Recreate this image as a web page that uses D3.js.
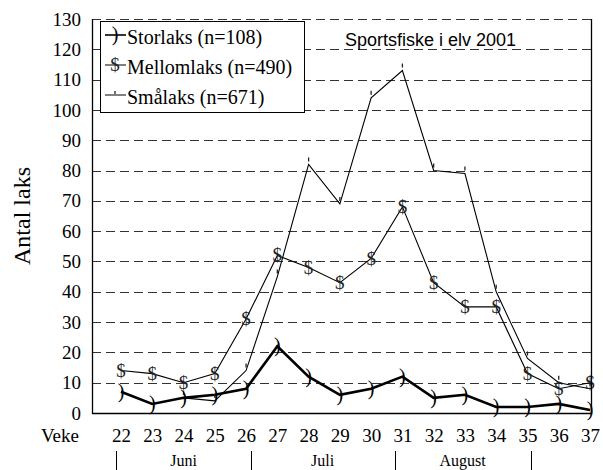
<!DOCTYPE html>
<html>
<head>
<meta charset="utf-8">
<script src="https://cdn.jsdelivr.net/npm/d3@7"></script>
<style>
  body { margin: 0; background: #fff; }
  svg { display: block; }
</style>
</head>
<body>
<div id="canvas"></div>
<script>
// weekly catch, sport fishing in river 2001
var weeks = [22, 23, 24, 25, 26, 27, 28, 29, 30, 31, 32, 33, 34, 35, 36, 37];
var storlaks = [7, 3, 5, 6, 8, 22, 12, 6, 8, 12, 5, 6, 2, 2, 3, 1];
var mellomlaks = [14, 13, 10, 13, 31, 52, 48, 43, 51, 68, 43, 35, 35, 13, 8, 10];
var smalaks = [null, null, 5, 4, 14, 45, 82, 69, 104, 113, 80, 79, 40, 18, 10, 8];

var seriesNames = ["Storlaks (n=108)", "Mellomlaks (n=490)", "Smålaks (n=671)"];
var yTicks = [0, 10, 20, 30, 40, 50, 60, 70, 80, 90, 100, 110, 120, 130];
var months = ["Juni", "Juli", "August"];
var monthBounds = [21.85, 26.15, 30.75, 35.1];

var winWidth = 603, winHeight = 470;
var plot = { left: 92, right: 591, top: 19, bottom: 413 };

var svg = d3.select("#canvas").append("svg")
  .attr("width", winWidth)
  .attr("height", winHeight);

var x = d3.scaleLinear().domain([22, 37]).range([121, 590]);
var y = d3.scaleLinear().domain([0, 130]).range([plot.bottom, plot.top]);

var serif = "'Liberation Serif', 'Times New Roman', serif";

// dashed gridlines
svg.append("g").selectAll("line")
  .data(yTicks.filter(function(d) { return d > 0; }))
  .enter().append("line")
  .attr("x1", plot.left).attr("x2", plot.right)
  .attr("y1", function(d) { return Math.round(y(d)) + 0.5; })
  .attr("y2", function(d) { return Math.round(y(d)) + 0.5; })
  .attr("stroke", "#333")
  .attr("stroke-dasharray", "9,5");

// y axis labels
var yAxis = d3.axisLeft(y).tickValues(yTicks).tickSize(0).tickPadding(11);
var gY = svg.append("g")
  .attr("transform", "translate(" + plot.left + ",0)")
  .call(yAxis);
gY.select(".domain").remove();
gY.selectAll("text")
  .style("font-family", serif).style("font-size", "19px").attr("fill", "#000");

// x axis labels
var xAxis = d3.axisBottom(x).tickValues(weeks).tickSize(0).tickPadding(16).tickFormat(d3.format("d"));
var gX = svg.append("g")
  .attr("transform", "translate(0," + plot.bottom + ")")
  .call(xAxis);
gX.select(".domain").remove();
gX.selectAll("text")
  .style("font-family", serif).style("font-size", "19px").attr("fill", "#000");

svg.append("text")
  .attr("x", 60).attr("y", 442)
  .attr("text-anchor", "middle")
  .style("font-family", serif).style("font-size", "19px")
  .text("Veke");

svg.append("text")
  .attr("transform", "translate(30,216) rotate(-90)")
  .attr("text-anchor", "middle")
  .style("font-family", serif).style("font-size", "24px")
  .text("Antal laks");

// month separators
svg.append("g").selectAll("line")
  .data(monthBounds)
  .enter().append("line")
  .attr("x1", function(d) { return Math.round(x(d)) + 0.5; })
  .attr("x2", function(d) { return Math.round(x(d)) + 0.5; })
  .attr("y1", 451).attr("y2", 470)
  .attr("stroke", "#000");

svg.append("g").selectAll("text")
  .data(months)
  .enter().append("text")
  .attr("x", function(d, i) { return (x(monthBounds[i]) + x(monthBounds[i + 1])) / 2; })
  .attr("y", 466)
  .attr("text-anchor", "middle")
  .style("font-family", serif).style("font-size", "16px")
  .text(function(d) { return d; });

// lines
function rows(values) {
  return weeks.map(function(w, i) { return { w: w, v: values[i] }; });
}
var line = d3.line()
  .defined(function(d) { return d.v != null; })
  .x(function(d) { return x(d.w); })
  .y(function(d) { return y(d.v); });

svg.append("path").datum(rows(smalaks))
  .attr("d", line).attr("fill", "none").attr("stroke", "#000").attr("stroke-width", 1.1);
svg.append("path").datum(rows(mellomlaks))
  .attr("d", line).attr("fill", "none").attr("stroke", "#000").attr("stroke-width", 1.1);
svg.append("path").datum(rows(storlaks))
  .attr("d", line).attr("fill", "none").attr("stroke", "#000").attr("stroke-width", 2.6);

// markers
svg.append("g").selectAll("line")
  .data(rows(smalaks).filter(function(d) { return d.v != null; }))
  .enter().append("line")
  .attr("x1", function(d) { return x(d.w); }).attr("x2", function(d) { return x(d.w); })
  .attr("y1", function(d) { return y(d.v) - 7; }).attr("y2", function(d) { return y(d.v) - 3; })
  .attr("stroke", "#222").attr("stroke-width", 1.3);

svg.append("g").selectAll("text")
  .data(rows(mellomlaks))
  .enter().append("text")
  .attr("x", function(d) { return x(d.w); })
  .attr("y", function(d) { return y(d.v); })
  .attr("text-anchor", "middle").attr("dy", "0.32em")
  .style("font-family", serif).style("font-size", "19px").attr("fill", "#222")
  .text("$");

svg.append("g").selectAll("text")
  .data(rows(storlaks))
  .enter().append("text")
  .attr("x", function(d) { return x(d.w); })
  .attr("y", function(d) { return y(d.v); })
  .attr("text-anchor", "middle").attr("dy", "0.3em")
  .style("font-family", serif).style("font-size", "20px").attr("fill", "#000")
  .text(")");

// plot frame (top edge is the dashed 130 line)
svg.append("path")
  .attr("d", "M" + (plot.left + 0.5) + "," + plot.top + "V" + (plot.bottom + 0.5) +
             "H" + (plot.right + 0.5) + "V" + plot.top)
  .attr("fill", "none").attr("stroke", "#000").attr("stroke-width", 1.3);

// legend
var legend = svg.append("g");
legend.append("rect")
  .attr("x", 100.5).attr("y", 21.5).attr("width", 204).attr("height", 91)
  .attr("fill", "#fff").attr("stroke", "#000");

var legendRows = legend.selectAll("g.row")
  .data(seriesNames)
  .enter().append("g")
  .attr("class", "row")
  .attr("transform", function(d, i) { return "translate(0," + (44 + i * 30) + ")"; });

legendRows.append("line")
  .attr("x1", 105).attr("x2", 126).attr("y1", -9).attr("y2", -9)
  .attr("stroke", "#000").attr("stroke-width", function(d, i) { return i === 0 ? 1.6 : 1; });

legendRows.append("text")
  .attr("x", 127).attr("y", 0)
  .style("font-family", serif).style("font-size", "20px")
  .text(function(d) { return d; });

legendRows.filter(function(d, i) { return i === 0; }).append("text")
  .attr("x", 115).attr("y", -9).attr("dy", "0.3em").attr("text-anchor", "middle")
  .style("font-family", serif).style("font-size", "20px")
  .text(")");
legendRows.filter(function(d, i) { return i === 1; }).append("text")
  .attr("x", 115).attr("y", -9).attr("dy", "0.32em").attr("text-anchor", "middle")
  .style("font-family", serif).style("font-size", "19px").attr("fill", "#222")
  .text("$");
legendRows.filter(function(d, i) { return i === 2; }).append("line")
  .attr("x1", 115).attr("x2", 115).attr("y1", -13).attr("y2", -10)
  .attr("stroke", "#222").attr("stroke-width", 1.3);

// title
svg.append("text")
  .attr("x", 345).attr("y", 46)
  .style("font-family", "'Liberation Sans', Arial, sans-serif").style("font-size", "18px")
  .text("Sportsfiske i elv 2001");
</script>
</body>
</html>
